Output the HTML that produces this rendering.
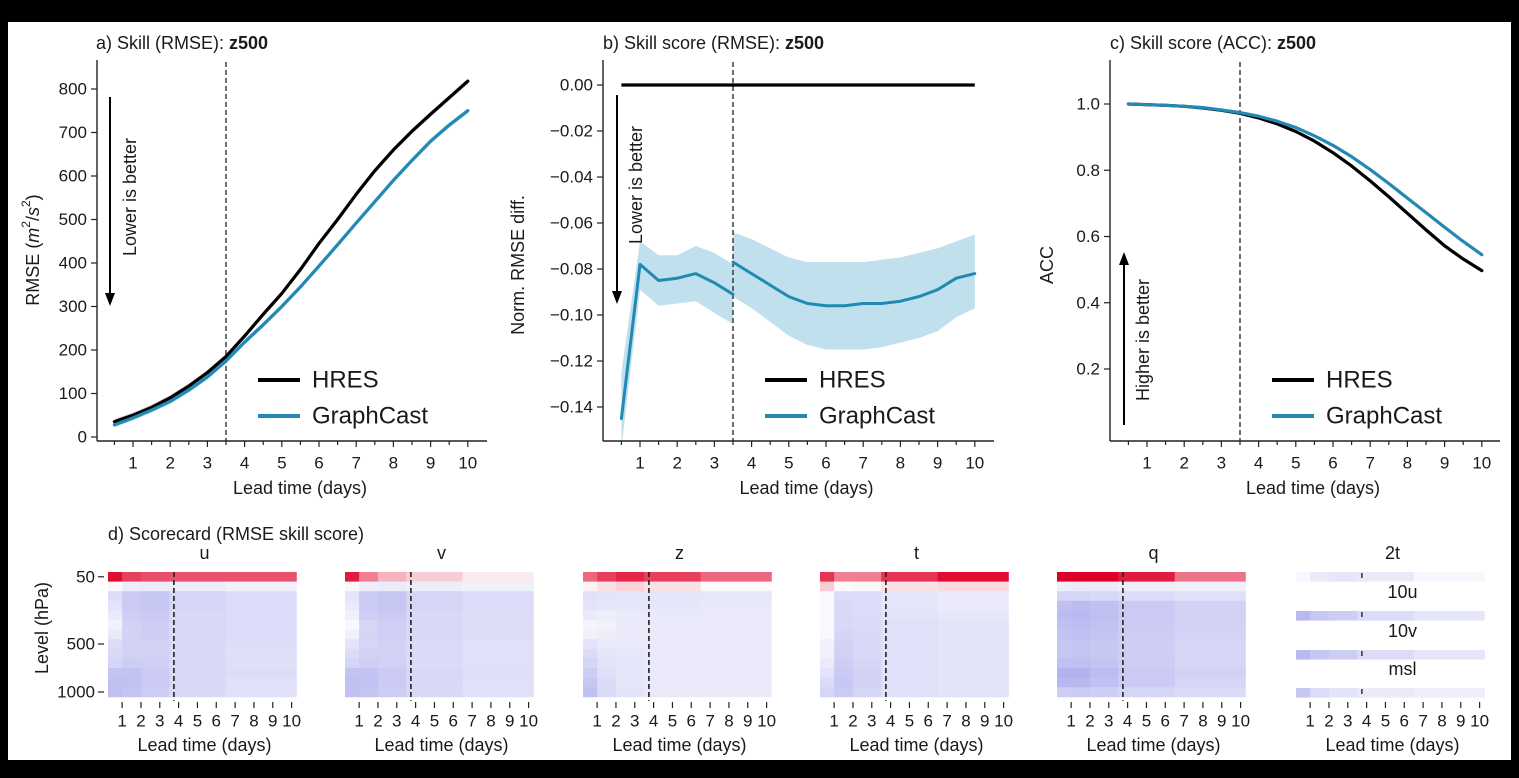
<!DOCTYPE html>
<html><head><meta charset="utf-8"><style>
html,body{margin:0;padding:0;background:#000;}
svg{display:block;font-family:"Liberation Sans","DejaVu Sans",sans-serif;}
</style></head><body>
<svg id="fig" width="1519" height="778" viewBox="0 0 1519 778" xmlns="http://www.w3.org/2000/svg">
<rect x="0" y="0" width="1519" height="778" fill="#000"/>
<rect x="8" y="22" width="1503" height="738" fill="#fff"/>
</svg>
<script>
// ---------- data ----------
const leadDays = [0.5,1,1.5,2,2.5,3,3.5,4,4.5,5,5.5,6,6.5,7,7.5,8,8.5,9,9.5,10];
const rmseHres = [35,50,68,90,117,148,185,232,282,330,385,445,500,558,612,660,703,742,780,818];
const rmseGraphcast = [28,44,62,82,108,138,175,218,258,300,345,393,442,492,541,590,636,680,717,750];
const skillSeg1Days = [0.5,1,1.5,2,2.5,3,3.5];
const skillSeg1 = [-0.145,-0.078,-0.085,-0.084,-0.082,-0.086,-0.091];
const skillSeg1Upper = [-0.125,-0.068,-0.074,-0.074,-0.070,-0.073,-0.078];
const skillSeg1Lower = [-0.158,-0.089,-0.096,-0.095,-0.094,-0.099,-0.104];
const skillSeg2Days = [3.5,4,4.5,5,5.5,6,6.5,7,7.5,8,8.5,9,9.5,10];
const skillSeg2 = [-0.077,-0.082,-0.087,-0.092,-0.095,-0.096,-0.096,-0.095,-0.095,-0.094,-0.092,-0.089,-0.084,-0.082];
const skillSeg2Upper = [-0.064,-0.067,-0.071,-0.075,-0.077,-0.077,-0.077,-0.077,-0.076,-0.075,-0.073,-0.071,-0.068,-0.065];
const skillSeg2Lower = [-0.092,-0.097,-0.103,-0.109,-0.113,-0.115,-0.115,-0.115,-0.114,-0.112,-0.110,-0.107,-0.101,-0.097];
const accHres = [1.0,0.998,0.996,0.993,0.988,0.981,0.972,0.958,0.94,0.917,0.888,0.853,0.813,0.768,0.72,0.67,0.62,0.572,0.532,0.497];
const accGraphcast = [1.0,0.998,0.996,0.993,0.989,0.982,0.974,0.963,0.948,0.929,0.904,0.875,0.841,0.802,0.760,0.716,0.672,0.628,0.585,0.545];
const ticksRmse = [0,100,200,300,400,500,600,700,800];
const ticksSkill = [0,-0.02,-0.04,-0.06,-0.08,-0.10,-0.12,-0.14];
const ticksAcc = [0.2,0.4,0.6,0.8,1.0];
const dayTicks = [1,2,3,4,5,6,7,8,9,10];
// scorecard: columns are lead-time bins, rows pressure levels (50..1000 hPa); normalized skill (-1 blue .. 1 red)
const binEdges = [0.25,1,2,3.5,6.5,10.25];
const scoreU = [[0.95,0.75,0.7,0.68,0.68],[-0.05,-0.12,-0.14,-0.12,-0.1],[-0.25,-0.38,-0.4,-0.3,-0.25],[-0.2,-0.38,-0.4,-0.3,-0.25],[-0.15,-0.35,-0.38,-0.28,-0.25],[-0.1,-0.32,-0.35,-0.28,-0.25],[-0.15,-0.32,-0.35,-0.28,-0.25],[-0.25,-0.32,-0.33,-0.27,-0.24],[-0.28,-0.33,-0.33,-0.27,-0.22],[-0.3,-0.35,-0.34,-0.27,-0.23],[-0.42,-0.42,-0.38,-0.28,-0.24],[-0.45,-0.44,-0.38,-0.28,-0.22],[-0.45,-0.42,-0.36,-0.27,-0.22]];
const scoreV = [[0.9,0.5,0.3,0.2,0.08],[-0.05,-0.12,-0.14,-0.12,-0.1],[-0.2,-0.38,-0.4,-0.3,-0.25],[-0.15,-0.38,-0.4,-0.3,-0.25],[-0.1,-0.35,-0.38,-0.28,-0.25],[-0.05,-0.3,-0.34,-0.28,-0.24],[-0.1,-0.3,-0.34,-0.27,-0.24],[-0.2,-0.3,-0.32,-0.26,-0.22],[-0.25,-0.32,-0.32,-0.26,-0.22],[-0.3,-0.35,-0.33,-0.26,-0.22],[-0.42,-0.42,-0.37,-0.28,-0.23],[-0.45,-0.44,-0.38,-0.28,-0.22],[-0.45,-0.42,-0.36,-0.27,-0.22]];
const scoreZ = [[0.6,0.75,0.85,0.75,0.6],[0.05,0.12,0.18,0.12,0.02],[-0.22,-0.2,-0.18,-0.18,-0.17],[-0.2,-0.18,-0.17,-0.17,-0.16],[-0.15,-0.12,-0.15,-0.16,-0.15],[-0.08,-0.1,-0.15,-0.16,-0.15],[-0.1,-0.12,-0.15,-0.16,-0.15],[-0.2,-0.15,-0.16,-0.16,-0.15],[-0.25,-0.18,-0.17,-0.16,-0.15],[-0.3,-0.2,-0.18,-0.16,-0.15],[-0.35,-0.22,-0.18,-0.16,-0.15],[-0.4,-0.25,-0.18,-0.16,-0.15],[-0.45,-0.26,-0.19,-0.16,-0.15]];
const scoreT = [[0.8,0.5,0.5,0.8,0.95],[0.2,0.02,0.03,0.12,0.15],[-0.05,-0.25,-0.25,-0.18,-0.15],[-0.05,-0.28,-0.25,-0.18,-0.15],[-0.05,-0.28,-0.25,-0.2,-0.17],[-0.05,-0.28,-0.26,-0.22,-0.2],[-0.05,-0.3,-0.27,-0.22,-0.2],[-0.1,-0.32,-0.28,-0.22,-0.2],[-0.1,-0.33,-0.28,-0.22,-0.2],[-0.15,-0.35,-0.3,-0.22,-0.2],[-0.2,-0.38,-0.32,-0.22,-0.2],[-0.25,-0.4,-0.32,-0.22,-0.2],[-0.3,-0.38,-0.3,-0.22,-0.2]];
const scoreQ = [[1.0,1.0,1.0,0.9,0.55],[-0.12,-0.15,-0.15,-0.12,-0.1],[-0.3,-0.3,-0.28,-0.25,-0.22],[-0.45,-0.48,-0.45,-0.38,-0.32],[-0.48,-0.5,-0.46,-0.38,-0.33],[-0.45,-0.47,-0.44,-0.37,-0.32],[-0.42,-0.45,-0.42,-0.36,-0.31],[-0.4,-0.42,-0.4,-0.35,-0.3],[-0.4,-0.42,-0.4,-0.35,-0.3],[-0.45,-0.46,-0.42,-0.36,-0.3],[-0.55,-0.55,-0.48,-0.38,-0.32],[-0.5,-0.5,-0.45,-0.37,-0.3],[-0.35,-0.38,-0.35,-0.3,-0.26]];
const score2t = [-0.05,-0.15,-0.18,-0.16,-0.06];
const score10u = [-0.5,-0.4,-0.35,-0.25,-0.18];
const score10v = [-0.5,-0.4,-0.35,-0.25,-0.18];
const scoreMsl = [-0.4,-0.25,-0.2,-0.15,-0.12];

// ---------- helpers ----------
const NS = "http://www.w3.org/2000/svg";
const svg = document.getElementById('fig');
function mk(tag, attrs, parent){ const e=document.createElementNS(NS,tag); for(const k in attrs) e.setAttribute(k,attrs[k]); (parent||svg).appendChild(e); return e; }
function txt(x,y,s,size,anchor,extra){ const t=mk('text',Object.assign({x:x,y:y,'font-size':size,'text-anchor':anchor||'middle',fill:'#1a1a1a','dominant-baseline':'central'},extra||{})); t.textContent=s; return t; }
const BLUE='#2189b3', BAND='#bfe0ec';
const dayX = (x1)=> (d)=> x1 + (d-1)*37.2;

function xAxis(g, x0, x1, base, xs){
  const ax=mk('line',{x1:x0,y1:441,x2:x1,y2:441,stroke:'#222','stroke-width':1.4});
   
  for(let h=0.5; h<=10; h+=0.5){ const maj=Number.isInteger(h);
    const tk=mk('line',{x1:xs(h),y1:441,x2:xs(h),y2:maj?447:445,stroke:'#222','stroke-width':1.2});
      }
  dayTicks.forEach(d=>{ const t=txt(xs(d),463,String(d),17);   });
  const l=txt((x0+x1)/2+8,488,'Lead time (days)',18);  
}
function yAxis(xL, top, base, ticks, ys, fmt){
  const ax=mk('line',{x1:xL,y1:top,x2:xL,y2:441,stroke:'#222','stroke-width':1.4});
   
  ticks.forEach(v=>{ const tk=mk('line',{x1:xL-6,y1:ys(v),x2:xL,y2:ys(v),stroke:'#222','stroke-width':1.2});
     
    const t=txt(xL-10,ys(v),fmt(v),17,'end');   });
}
function poly(xs,ys,days,vals,color,w,name){
  const p=mk('polyline',{points:days.map((d,i)=>xs(d)+','+ys(vals[i])).join(' '),fill:'none',stroke:color,'stroke-width':w,'stroke-linejoin':'round','stroke-linecap':'round'});
    return p;
}
function band(xs,ys,days,lo,hi,color,name){
  const pts=days.map((d,i)=>xs(d)+','+ys(hi[i])).concat(days.slice().reverse().map((d,j)=>xs(d)+','+ys(lo[days.length-1-j])));
  const p=mk('polygon',{points:pts.join(' '),fill:color,stroke:'none'});
   
}
function dashed(x,y0,y1,name,w){ const l=mk('line',{x1:x,y1:y0,x2:x,y2:y1,stroke:'#222','stroke-width':w||1.3,'stroke-dasharray':'5,3'});   }
function legend(x,base){
  const a=mk('line',{x1:x,y1:380,x2:x+42,y2:380,stroke:'#000','stroke-width':4});  
  const t1=txt(x+54,380,'HRES',24,'start');  
  const b=mk('line',{x1:x,y1:416,x2:x+42,y2:416,stroke:BLUE,'stroke-width':4});  
  const t2=txt(x+54,416,'GraphCast',24,'start');  
}
function arrow(x,yFrom,yTo,label,lx,ly,name){
  const dir=yTo>yFrom?1:-1;
  const l=mk('line',{x1:x,y1:yFrom,x2:x,y2:yTo-dir*12,stroke:'#000','stroke-width':2});  
  const h=mk('polygon',{points:`${x-5},${yTo-dir*13} ${x+5},${yTo-dir*13} ${x},${yTo}`,fill:'#000'});  
  const t=txt(lx,ly,label,18,'middle',{transform:`rotate(-90 ${lx} ${ly})`});  
}
function title(x,y,plain,bold,name){
  const t=mk('text',{x:x,y:y,'font-size':18,fill:'#1a1a1a','dominant-baseline':'central'});  
  const s1=mk('tspan',{},t); s1.textContent=plain; const s2=mk('tspan',{'font-weight':'bold'},t); s2.textContent=bold;
}

// ---------- panel a ----------
(function(){
  const xs=dayX(133), ys=v=>437-v*0.435;
  title(96,43,'a) Skill (RMSE): ','z500','panel-a-title');
  band(xs,ys,leadDays,rmseHres.map(v=>v-6),rmseHres.map(v=>v+6),'#c8c8c8','rmse-hres-band');
  band(xs,ys,leadDays,rmseGraphcast.map(v=>v-6),rmseGraphcast.map(v=>v+6),BAND,'rmse-graphcast-band');
  dashed(226,62,441,'panel-a-day-3.5-line');
  poly(xs,ys,leadDays,rmseHres,'#000',3.2,'rmse-hres-line');
  poly(xs,ys,leadDays,rmseGraphcast,BLUE,3.2,'rmse-graphcast-line');
  yAxis(97,60,'panel-a',ticksRmse,ys,v=>String(v));
  xAxis(null,97,487,'panel-a',xs);
  const yl=mk('text',{x:33,y:250,'font-size':18,fill:'#1a1a1a','text-anchor':'middle','dominant-baseline':'central',transform:'rotate(-90 33 250)'});
   
  yl.innerHTML='RMSE (<tspan font-style="italic">m</tspan><tspan font-size="12" dy="-7">2</tspan><tspan dy="7">/</tspan><tspan font-style="italic">s</tspan><tspan font-size="12" dy="-7">2</tspan><tspan dy="7">)</tspan>';
  arrow(110,97,306,'Lower is better',130,197,'panel-a-lower-better');
  legend(258,'panel-a');
})();

// ---------- panel b ----------
(function(){
  const xs=dayX(640), ys=v=>85-v/0.02*46;
  title(603,43,'b) Skill score (RMSE): ','z500','panel-b-title');
  band(xs,ys,skillSeg1Days,skillSeg1Lower,skillSeg1Upper,BAND,'skill-band-early');
  band(xs,ys,skillSeg2Days,skillSeg2Lower,skillSeg2Upper,BAND,'skill-band-late');
  dashed(733,62,441,'panel-b-day-3.5-line');
  const h=mk('line',{x1:xs(0.5),y1:ys(0),x2:xs(10),y2:ys(0),stroke:'#000','stroke-width':3.2});  
  poly(xs,ys,skillSeg1Days,skillSeg1,BLUE,3,'skill-graphcast-line-early');
  poly(xs,ys,skillSeg2Days,skillSeg2,BLUE,3,'skill-graphcast-line-late');
  yAxis(603,60,'panel-b',ticksSkill,ys,v=>v===0?'0.00':'\u2212'+Math.abs(v).toFixed(2));
  xAxis(null,603,994,'panel-b',xs);
  const yl=txt(518,265,'Norm. RMSE diff.',18,'middle',{transform:'rotate(-90 518 265)'});  
  arrow(617,95,304,'Lower is better',636,185,'panel-b-lower-better');
  legend(765,'panel-b');
})();

// ---------- panel c ----------
(function(){
  const xs=dayX(1147), ys=v=>369-(v-0.2)/0.2*66.25;
  title(1110,43,'c) Skill score (ACC): ','z500','panel-c-title');
  dashed(1240,62,441,'panel-c-day-3.5-line');
  poly(xs,ys,leadDays,accHres,'#000',3.2,'acc-hres-line');
  poly(xs,ys,leadDays,accGraphcast,BLUE,3.2,'acc-graphcast-line');
  yAxis(1110,60,'panel-c',ticksAcc,ys,v=>v.toFixed(1));
  xAxis(null,1110,1500,'panel-c',xs);
  const yl=txt(1047,265,'ACC',18,'middle',{transform:'rotate(-90 1047 265)'});  
  arrow(1124,425,252,'Higher is better',1143,340,'panel-c-higher-better');
  legend(1272,'panel-c');
})();

// ---------- scorecard ----------
function scoreColor(v){
  if(v<0){ const a=Math.min(1,-v); return `rgb(${Math.round(255-a*140)},${Math.round(255-a*140)},${Math.round(255-a*30)})`; }
  const a=Math.min(1,v); return `rgb(${Math.round(255-a*33)},${Math.round(255-a*255)},${Math.round(255-a*215)})`;
}
const st=txt(108,534,'d) Scorecard (RMSE skill score)',18,'start');  
const hmW=193, hmTop=572, rowH=9.6;
function hmX(x0){ return d=> x0 + (d-0.25)/10.25*hmW; }
function hmXAxis(x0,base){
  const xs=hmX(x0);
  dayTicks.forEach(d=>{
    const tk=mk('line',{x1:xs(d),y1:702,x2:xs(d),y2:708,stroke:'#222','stroke-width':1.2});  
    const lab=txt(xs(d),721,String(d),17);  
  });
  const t=txt(x0+hmW/2,745,'Lead time (days)',18);  
}
function heatmap(x0,label,data){
  const xs=hmX(x0), base='scorecard-'+label;
  data.forEach((row,r)=>row.forEach((v,c)=>{
    const cell=mk('rect',{x:xs(binEdges[c]),y:hmTop+r*rowH,width:xs(binEdges[c+1])-xs(binEdges[c])+0.5,height:rowH+0.5,fill:scoreColor(v)});
     
  }));
  dashed(xs(3.75),hmTop,hmTop+13*rowH+4,base+'-day-3.5-line',1.6);
  const t=txt(x0+hmW/2,553,label,18);  
  hmXAxis(x0,base);
}
heatmap(108,'u',scoreU);
heatmap(345,'v',scoreV);
heatmap(583,'z',scoreZ);
heatmap(820,'t',scoreT);
heatmap(1057,'q',scoreQ);
// level axis on u
[[50,0],[500,7],[1000,12]].forEach(([lv,r])=>{
  const y=hmTop+(r+0.5)*rowH;
  const tk=mk('line',{x1:98,y1:y,x2:104,y2:y,stroke:'#222','stroke-width':1.2});  
  const t=txt(95,y,String(lv),17,'end');  
});
const lvl=txt(42,628,'Level (hPa)',18,'middle',{transform:'rotate(-90 42 628)'});  
// surface variables
(function(){
  const x0=1296, xs=hmX(x0);
  const surf=[['2t',score2t,572],['10u',score10u,611],['10v',score10v,650],['msl',scoreMsl,688]];
  surf.forEach(([name,vals,y],i)=>{
    vals.forEach((v,c)=>{ const cell=mk('rect',{x:xs(binEdges[c]),y:y,width:xs(binEdges[c+1])-xs(binEdges[c])+0.5,height:9.6,fill:scoreColor(v)});
        });
    dashed(xs(3.75),y+1,y+9,'scorecard-'+name+'-day-3.5-line',1.4);
    const t=txt(i===0?x0+hmW/2:x0+hmW/2+10,y-19,name,18);  
  });
  hmXAxis(x0,'scorecard-surface');
})();
</script>
</body></html>
